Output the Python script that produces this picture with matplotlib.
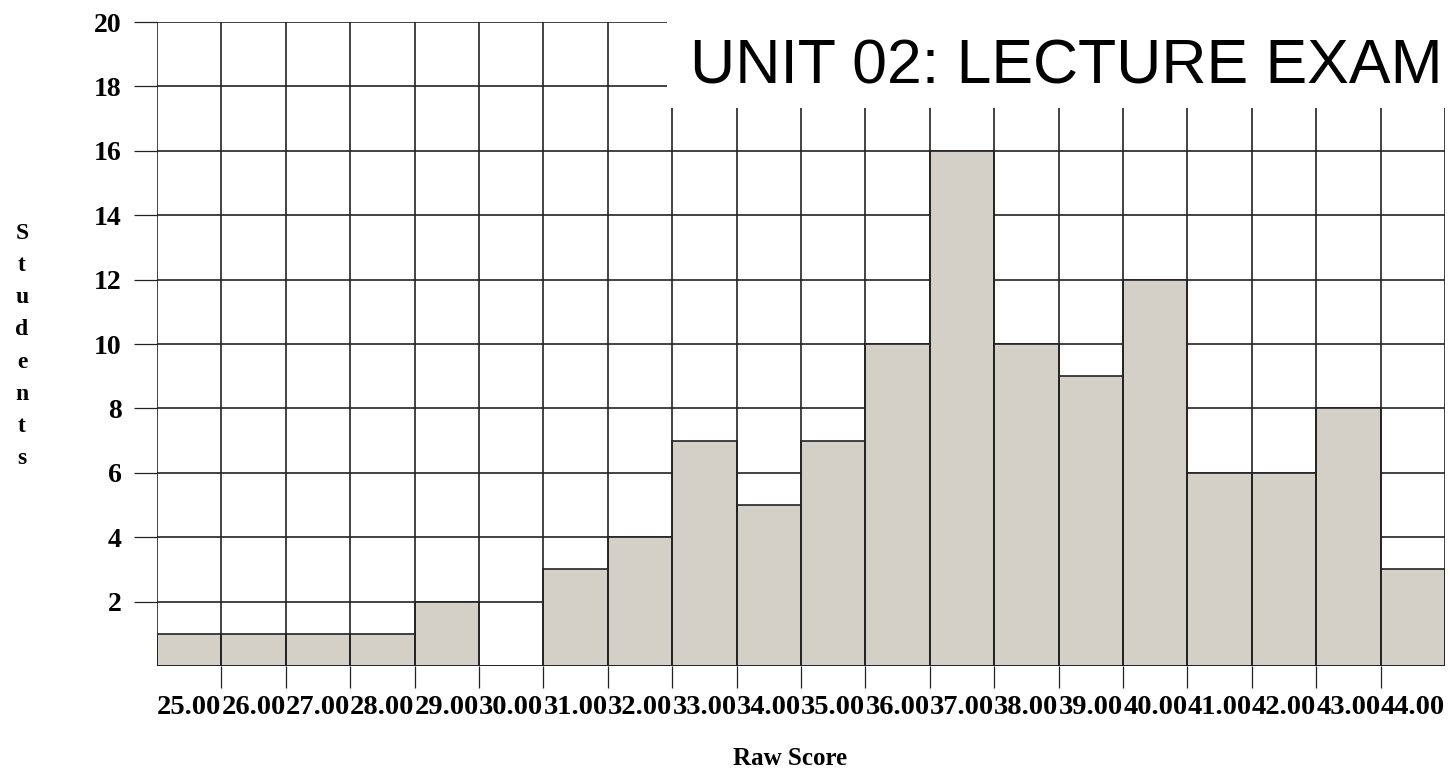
import numpy as np
import matplotlib.pyplot as plt
from matplotlib.patches import Rectangle

# data
scores = [25, 26, 27, 28, 29, 30, 31, 32, 33, 34, 35, 36, 37, 38, 39, 40, 41, 42, 43, 44]
students = [1, 1, 1, 1, 2, 0, 3, 4, 7, 5, 7, 10, 16, 10, 9, 12, 6, 6, 8, 3]
score_labels = ["%.2f" % s for s in scores]
y_ticks = [2, 4, 6, 8, 10, 12, 14, 16, 18, 20]
title = "UNIT 02: LECTURE EXAM"

W, H = 1450, 772
fig = plt.figure(figsize=(W / 100, H / 100), dpi=100)
ax = fig.add_axes([157 / W, (H - 666) / H, (1445 - 157) / W, (666 - 22) / H])

serif = ["Liberation Serif", "DejaVu Serif"]
edges = np.arange(scores[0] - 0.5, scores[-1] + 1.0, 1.0)

# horizontal grid behind the bars
for y in y_ticks:
    ax.axhline(y, color="#222222", lw=1.2, zorder=1)

ax.bar(scores, students, width=1.0, color="#d4d0c8", edgecolor="#222222",
       linewidth=1.2, zorder=2)

# vertical grid at every bin edge
ax.vlines(edges, 0, 20, color="#222222", lw=1.2, zorder=3)
ax.axhline(0, color="#222222", lw=1.2, zorder=3)

ax.set_xlim(edges[0], edges[-1])
ax.set_ylim(0, 20)
for s in ax.spines.values():
    s.set_visible(False)

ax.set_xticks(scores)
ax.set_xticklabels(score_labels, fontfamily=serif, fontweight="bold", fontsize=20.5)
ax.tick_params(axis="x", which="major", length=0, pad=21)
ax.set_xticks(edges[1:-1], minor=True)
ax.tick_params(axis="x", which="minor", length=16, width=0.9, color="#222222", direction="out")

ax.set_yticks(y_ticks)
ax.set_yticklabels([str(v) for v in y_ticks], fontfamily=serif, fontweight="bold", fontsize=20)
ax.tick_params(axis="y", length=16.5, width=0.9, color="#222222", pad=9)

fig.text(790 / W, 1 - 765 / H, "Raw Score", ha="center", va="baseline",
         fontfamily=serif, fontweight="bold", fontsize=18)
fig.text(22 / W, 1 - 346 / H, "\n".join("Students"), ha="center", va="center",
         fontfamily=serif, fontweight="bold", fontsize=17, linespacing=1.7)

# white block behind the title hides the top of the grid
fig.add_artist(Rectangle((667 / W, 1 - 108 / H), 1, 1, transform=fig.transFigure,
                         facecolor="white", edgecolor="none", zorder=5))
fig.text(690 / W, 1 - 83 / H, title, ha="left", va="baseline",
         fontfamily=["Liberation Sans Narrow", "Liberation Sans"], fontsize=45, zorder=6)

fig.savefig("out.png", dpi=100)
